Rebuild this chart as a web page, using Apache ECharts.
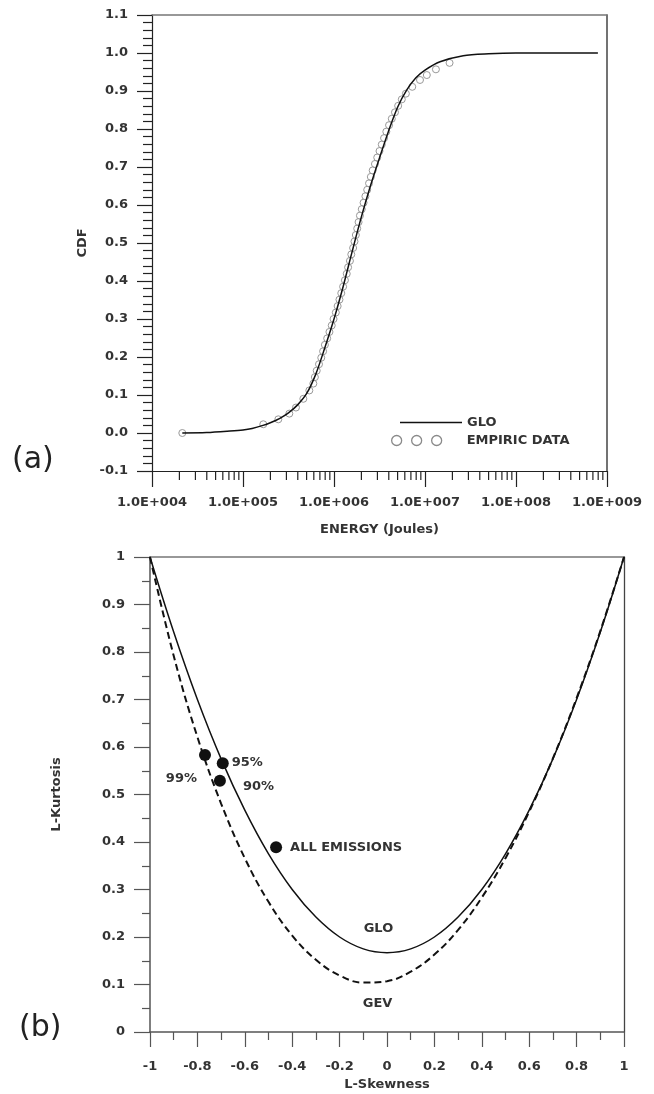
<!DOCTYPE html>
<html>
<head>
<meta charset="utf-8">
<script src="https://cdn.jsdelivr.net/npm/echarts@6/dist/echarts.min.js"></script>
<style>
  html, body { margin: 0; padding: 0; background: #fff; }
  #chart { width: 654px; height: 1094px; }
</style>
</head>
<body>
<div id="chart"></div>
<script>
// (a) CDF vs energy, energies stored as log10(Joules)
const gloLogE = [4.333, 4.6, 4.857, 5.0, 5.1, 5.22, 5.3, 5.4, 5.5, 5.6, 5.7, 5.8, 5.9, 6.0, 6.1, 6.2, 6.3, 6.4, 6.5, 6.6, 6.7, 6.8, 6.9, 7.0, 7.165, 7.42, 7.7, 8.0, 8.9]
const gloCdf = [0.0, 0.001, 0.005, 0.008, 0.012, 0.02, 0.027, 0.038, 0.053, 0.074, 0.104, 0.155, 0.225, 0.30, 0.385, 0.478, 0.568, 0.65, 0.724, 0.795, 0.858, 0.903, 0.935, 0.955, 0.977, 0.993, 0.998, 1.0, 1.0]
const empLogE = [4.333, 5.223, 5.388, 5.509, 5.582, 5.663, 5.729, 5.773, 5.79, 5.81, 5.835, 5.86, 5.88, 5.90, 5.925, 5.95, 5.975, 5.995, 6.02, 6.04, 6.06, 6.08, 6.10, 6.12, 6.14, 6.155, 6.175, 6.19, 6.21, 6.225, 6.24, 6.255, 6.27, 6.285, 6.305, 6.325, 6.345, 6.365, 6.385, 6.405, 6.425, 6.45, 6.475, 6.5, 6.525, 6.55, 6.575, 6.605, 6.635, 6.67, 6.705, 6.745, 6.79, 6.86, 6.945, 7.02, 7.12, 7.27]
const empCdf = [0.0, 0.023, 0.036, 0.051, 0.067, 0.09, 0.112, 0.13, 0.147, 0.164, 0.181, 0.198, 0.215, 0.232, 0.249, 0.266, 0.283, 0.300, 0.317, 0.334, 0.351, 0.368, 0.385, 0.402, 0.419, 0.436, 0.453, 0.470, 0.487, 0.504, 0.521, 0.538, 0.555, 0.572, 0.589, 0.606, 0.623, 0.640, 0.657, 0.674, 0.691, 0.708, 0.725, 0.742, 0.759, 0.776, 0.793, 0.810, 0.827, 0.844, 0.861, 0.878, 0.893, 0.911, 0.929, 0.942, 0.957, 0.974]
const tickDecades = [4, 5, 6, 7, 8]
const minorMults = [2, 3, 4, 5, 6, 7, 8, 9]

// (b) L-moment ratio diagram
const skewGrid = [-1, -0.9, -0.8, -0.7, -0.6, -0.5, -0.4, -0.3, -0.2, -0.1, 0, 0.1, 0.2, 0.3, 0.4, 0.5, 0.6, 0.7, 0.8, 0.9, 1]
const gloKurt = [1, 0.842, 0.700, 0.575, 0.467, 0.375, 0.300, 0.242, 0.200, 0.175, 0.167, 0.175, 0.200, 0.242, 0.300, 0.375, 0.467, 0.575, 0.700, 0.842, 1]
const gevKurt = [1, 0.792, 0.621, 0.481, 0.366, 0.274, 0.203, 0.152, 0.119, 0.104, 0.107, 0.127, 0.163, 0.215, 0.283, 0.366, 0.464, 0.576, 0.703, 0.844, 1]
const pointNames = ['99%', '95%', '90%', 'ALL EMISSIONS']
const pointSkew = [-0.768, -0.693, -0.705, -0.468]
const pointKurt = [0.583, 0.566, 0.529, 0.389]

const FONT = 'DejaVu Sans'
const TXT = '#333'
const AX = '#222'

let gloData = gloLogE.map((e, i) => [Math.pow(10, e), gloCdf[i]])
let empData = empLogE.map((e, i) => [Math.pow(10, e), empCdf[i]])
let minorTicks = []
tickDecades.forEach(d => {
  minorMults.forEach(m => { minorTicks.push([m * Math.pow(10, d), -0.1]) })
})
let gloCurve = skewGrid.map((s, i) => [s, gloKurt[i]])
let gevCurve = skewGrid.map((s, i) => [s, gevKurt[i]])

// label placement for each point in (b)
let pointLabel = {
  '99%': { position: 'left', distance: 2, offset: [0, 24] },
  '95%': { position: 'right', distance: 3, offset: [0, -1] },
  '90%': { position: 'right', distance: 17, offset: [0, 6] },
  'ALL EMISSIONS': { position: 'right', distance: 8, offset: [0, 0] }
}
let pointData = pointNames.map((n, i) => ({
  name: n,
  value: [pointSkew[i], pointKurt[i]],
  label: pointLabel[n]
}))

let tickLabel = { fontFamily: FONT, fontWeight: 'bold', fontSize: 13, color: TXT }
let nameText = { fontFamily: FONT, fontWeight: 'bold', fontSize: 13, color: TXT }

let option = {
  animation: false,
  backgroundColor: '#fff',
  title: [
    { text: '(a)', left: 12, top: 445, padding: 0, textStyle: { fontFamily: FONT, fontWeight: 'normal', fontSize: 30, color: '#222' } },
    { text: '(b)', left: 19, top: 1013, padding: 0, textStyle: { fontFamily: FONT, fontWeight: 'normal', fontSize: 30, color: '#222' } }
  ],
  legend: [
    {
      data: [{ name: 'GLO', icon: 'path://M0,0H62V1.4H0Z' }], left: 395, top: 411, orient: 'vertical', selectedMode: false,
      itemWidth: 62, itemHeight: 10,
      itemStyle: { color: '#111', borderWidth: 0 },
      textStyle: Object.assign({}, tickLabel, { padding: [0, 0, 0, 0] })
    },
    {
      data: [{ name: 'EMPIRIC DATA', icon: 'path://M0,5a5,5 0 1,0 10,0a5,5 0 1,0 -10,0zM20,5a5,5 0 1,0 10,0a5,5 0 1,0 -10,0zM40,5a5,5 0 1,0 10,0a5,5 0 1,0 -10,0z' }],
      left: 386, top: 429, orient: 'vertical', selectedMode: false,
      itemWidth: 50, itemHeight: 10,
      itemStyle: { color: 'rgba(255,255,255,0)', borderColor: '#8a8a8a', borderWidth: 1.3, opacity: 1 },
      textStyle: Object.assign({}, tickLabel, { padding: [0, 0, 0, 20] })
    }
  ],
  grid: [
    { left: 152, top: 15, width: 455, height: 456, outerBoundsMode: 'none' },
    { left: 150, top: 557, width: 474, height: 475, outerBoundsMode: 'none' }
  ],
  xAxis: [
    {
      gridIndex: 0, type: 'log', min: 1e4, max: 1e9, logBase: 10,
      name: 'ENERGY (Joules)', nameLocation: 'middle', nameGap: 52, nameTextStyle: nameText,
      axisLine: { show: true, onZero: false, lineStyle: { color: AX, width: 1.2 } },
      axisTick: { show: true, length: 16, lineStyle: { color: AX, width: 1.2 } },
      axisLabel: Object.assign({ margin: 25, formatter: v => '1.0E+' + String(Math.round(Math.log10(v))).padStart(3, '0') }, tickLabel),
      splitLine: { show: false }
    },
    {
      gridIndex: 0, type: 'log', min: 1e4, max: 1e9, position: 'top',
      axisLine: { show: true, onZero: false, lineStyle: { color: '#777', width: 1.6 } },
      axisTick: { show: false }, axisLabel: { show: false }, splitLine: { show: false }
    },
    {
      gridIndex: 1, type: 'value', min: -1, max: 1, interval: 0.2,
      name: 'L-Skewness', nameLocation: 'middle', nameGap: 46, nameTextStyle: nameText,
      axisLine: { show: true, onZero: false, lineStyle: { color: '#555', width: 1.5 } },
      axisTick: { show: true, length: 15, lineStyle: { color: '#555', width: 1.2 } },
      minorTick: { show: true, splitNumber: 2, length: 8, lineStyle: { color: '#555', width: 1.2 } },
      axisLabel: Object.assign({ margin: 28 }, tickLabel),
      splitLine: { show: false }
    },
    {
      gridIndex: 1, type: 'value', min: -1, max: 1, position: 'top',
      axisLine: { show: true, onZero: false, lineStyle: { color: '#777', width: 1.6 } },
      axisTick: { show: false }, axisLabel: { show: false }, splitLine: { show: false }
    }
  ],
  yAxis: [
    {
      gridIndex: 0, type: 'value', min: -0.1, max: 1.1, interval: 0.1,
      name: 'CDF', nameLocation: 'middle', nameGap: 62, nameTextStyle: nameText,
      axisLine: { show: true, onZero: false, lineStyle: { color: AX, width: 1.2 } },
      axisTick: { show: true, length: 15, lineStyle: { color: AX, width: 1.2 } },
      minorTick: { show: true, splitNumber: 5, length: 9, lineStyle: { color: AX, width: 1.2 } },
      axisLabel: Object.assign({ margin: 24, formatter: v => v.toFixed(1) }, tickLabel),
      splitLine: { show: false }
    },
    {
      gridIndex: 0, type: 'value', min: -0.1, max: 1.1, position: 'right',
      axisLine: { show: true, onZero: false, lineStyle: { color: '#444', width: 1.5 } },
      axisTick: { show: false }, axisLabel: { show: false }, splitLine: { show: false }
    },
    {
      gridIndex: 1, type: 'value', min: 0, max: 1, interval: 0.1,
      name: 'L-Kurtosis', nameLocation: 'middle', nameGap: 87, nameTextStyle: nameText,
      axisLine: { show: true, onZero: false, lineStyle: { color: '#555', width: 1.5 } },
      axisTick: { show: true, length: 16, lineStyle: { color: '#555', width: 1.2 } },
      minorTick: { show: true, splitNumber: 2, length: 8, lineStyle: { color: '#555', width: 1.2 } },
      axisLabel: Object.assign({ margin: 25 }, tickLabel),
      splitLine: { show: false }
    },
    {
      gridIndex: 1, type: 'value', min: 0, max: 1, position: 'right',
      axisLine: { show: true, onZero: false, lineStyle: { color: '#444', width: 1.3 } },
      axisTick: { show: false }, axisLabel: { show: false }, splitLine: { show: false }
    }
  ],
  series: [
    {
      name: 'EMPIRIC DATA', type: 'scatter', xAxisIndex: 0, yAxisIndex: 0,
      data: empData, symbol: 'circle', symbolSize: 7, z: 2,
      itemStyle: { color: 'rgba(255,255,255,0)', borderColor: '#999', borderWidth: 1, opacity: 1 }
    },
    {
      name: 'GLO', type: 'line', xAxisIndex: 0, yAxisIndex: 0,
      data: gloData, symbol: 'none', smooth: 0.3, z: 3,
      lineStyle: { color: '#111', width: 1.5 }, itemStyle: { color: '#111' }
    },
    {
      name: 'minor ticks', type: 'custom', xAxisIndex: 0, yAxisIndex: 0,
      data: minorTicks, silent: true, clip: false,
      renderItem: (params, api) => {
        let p = api.coord([api.value(0), api.value(1)])
        return { type: 'line', shape: { x1: p[0], y1: p[1], x2: p[0], y2: p[1] + 9 }, style: { stroke: AX, lineWidth: 1.2 } }
      }
    },
    {
      name: 'GLO curve', type: 'line', xAxisIndex: 2, yAxisIndex: 2,
      data: gloCurve, symbol: 'none', smooth: 0.4,
      lineStyle: { color: '#111', width: 1.5 },
      markPoint: {
        symbol: 'circle', symbolSize: 0,
        label: { show: true, position: 'inside', formatter: 'GLO', fontFamily: FONT, fontWeight: 'bold', fontSize: 13, color: TXT },
        data: [{ coord: [-0.036, 0.217] }]
      }
    },
    {
      name: 'GEV curve', type: 'line', xAxisIndex: 2, yAxisIndex: 2,
      data: gevCurve, symbol: 'none', smooth: 0.4,
      lineStyle: { color: '#111', width: 2, type: [7, 4] },
      markPoint: {
        symbol: 'circle', symbolSize: 0,
        label: { show: true, position: 'inside', formatter: 'GEV', fontFamily: FONT, fontWeight: 'bold', fontSize: 13, color: TXT },
        data: [{ coord: [-0.04, 0.059] }]
      }
    },
    {
      name: 'points', type: 'scatter', xAxisIndex: 2, yAxisIndex: 2,
      data: pointData, symbol: 'circle', symbolSize: 12, z: 5,
      itemStyle: { color: '#111', opacity: 1 },
      label: { show: true, formatter: '{b}', fontFamily: FONT, fontWeight: 'bold', fontSize: 13, color: TXT }
    }
  ]
}

let chart = echarts.init(document.getElementById('chart'))
chart.setOption(option)
</script>
</body>
</html>
